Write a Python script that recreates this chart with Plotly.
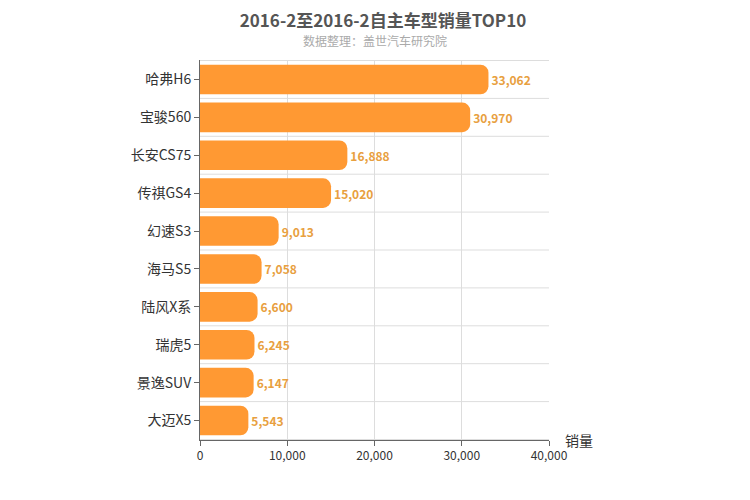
import plotly.graph_objects as go

models = ["哈弗H6", "宝骏560", "长安CS75", "传祺GS4", "幻速S3", "海马S5", "陆风X系", "瑞虎5", "景逸SUV", "大迈X5"]
sales = [33062, 30970, 16888, 15020, 9013, 7058, 6600, 6245, 6147, 5543]
xticks = [0, 10000, 20000, 30000, 40000]
xticklabels = ["0", "10,000", "20,000", "30,000", "40,000"]

font = "Noto Sans CJK SC"
fig = go.Figure(go.Bar(
    x=sales, y=models, orientation="h", width=0.78,
    marker=dict(color="#FF9933", line=dict(width=0)),
    text=[f"<b>{v:,}</b>" for v in sales], textposition="outside",
    textfont=dict(color="#E8A040", size=12, family=font), cliponaxis=False,
))
shapes = []
for i in range(len(models) + 1):
    shapes.append(dict(type="line", xref="paper", yref="y", x0=0, x1=1, y0=i - 0.5, y1=i - 0.5,
                       line=dict(color="#DDDDDD", width=1), layer="below"))
fig.update_layout(
    width=750, height=500, barcornerradius=8, plot_bgcolor="white", paper_bgcolor="white",
    margin=dict(l=192, r=209, t=52, b=68), showlegend=False, shapes=shapes,
    font=dict(family=font, color="#333333"),
    title=dict(text="<b>2016-2至2016-2自主车型销量TOP10</b>", x=0.5, xanchor="center", y=0.985, yanchor="top",
               font=dict(size=17, color="#555555")),
    annotations=[
        dict(text="数据整理：盖世汽车研究院", xref="paper", yref="paper", x=0.5, y=1.08, xanchor="center",
             showarrow=False, font=dict(size=12, color="#AAAAAA")),
        dict(text="销量", xref="paper", yref="paper", x=1.085, y=0.0, xanchor="center", yanchor="middle",
             showarrow=False, font=dict(size=14, color="#333333")),
    ],
    xaxis=dict(range=[0, 40000], tickvals=xticks, ticktext=xticklabels, showgrid=True, gridcolor="#DDDDDD",
               zeroline=False, showline=True, linecolor="#666666", ticks="outside", ticklen=5, automargin=False,
               tickcolor="#666666", tickfont=dict(size=12, color="#333333")),
    yaxis=dict(autorange="reversed", showgrid=False, showline=True, linecolor="#666666", ticks="outside",
               ticklen=5, tickcolor="#666666", automargin=False, tickfont=dict(size=14, color="#333333")),
)
fig.write_html("out.html")
